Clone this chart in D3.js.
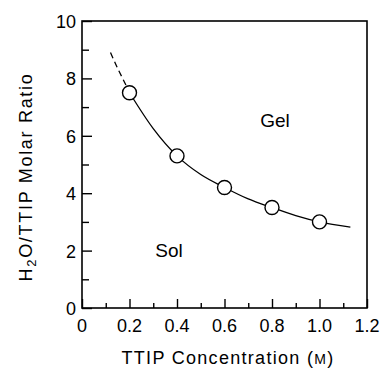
<!DOCTYPE html>
<html>
<head>
<meta charset="utf-8">
<script src="https://cdn.jsdelivr.net/npm/d3@7"></script>
<style>
body { margin: 0; background: #fff; }
text { font-family: "Liberation Sans", Arial, sans-serif; fill: #000; }
</style>
</head>
<body>
<div id="chart"></div>
<script>
// measured points
var conc = [0.2, 0.4, 0.6, 0.8, 1.0];
var ratio = [7.5, 5.3, 4.2, 3.5, 3.0];

// fitted boundary
var dashX = [0.12, 0.15, 0.18, 0.2];
var dashY = [8.9, 8.35, 7.85, 7.5];
var fitX = [0.2, 0.3, 0.4, 0.5, 0.6, 0.7, 0.8, 0.9, 1.0, 1.13];
var fitY = [7.5, 6.25, 5.3, 4.65, 4.2, 3.8, 3.5, 3.22, 3.0, 2.82];

var xTicks = [0, 0.2, 0.4, 0.6, 0.8, 1.0, 1.2];
var yTicks = [0, 2, 4, 6, 8, 10];

var width = 380,
	height = 373;
var padding = {left: 82, right: 13, top: 21, bottom: 65};

var svg = d3.select('#chart')
		.append('svg')
		.attr('width', width)
		.attr('height', height)

var x = d3.scaleLinear().domain([0, 1.2]).range([padding.left, width - padding.right]);
var y = d3.scaleLinear().domain([0, 10]).range([height - padding.bottom, padding.top]);

// frame
svg.append('rect')
	.attr('x', x(0))
	.attr('y', y(10))
	.attr('width', x(1.2) - x(0))
	.attr('height', y(0) - y(10))
	.attr('fill', 'none')
	.attr('stroke', '#000')
	.attr('stroke-width', 1.6)

// x ticks (inward)
var xAxis = svg.append('g')
	.attr('transform', `translate(0, ${y(0)})`)
	.call(d3.axisTop(x).tickValues(d3.range(0, 13).map(i => i / 10)).tickSize(0).tickFormat(''))
xAxis.select('.domain').remove();
xAxis.selectAll('.tick line')
	.attr('y2', (d, i) => i % 2 == 0 ? -9 : -5)
	.attr('stroke-width', 1.4)

svg.append('g').selectAll('text')
	.data(xTicks)
	.enter()
	.append('text')
	.attr('x', d => x(d))
	.attr('y', y(0) + 24)
	.attr('text-anchor', 'middle')
	.attr('font-size', 18)
	.text(d => d == 0 ? '0' : d.toFixed(1))

// y ticks (inward)
var yAxis = svg.append('g')
	.attr('transform', `translate(${x(0)}, 0)`)
	.call(d3.axisRight(y).tickValues(d3.range(0, 11)).tickSize(0).tickFormat(''))
yAxis.select('.domain').remove();
yAxis.selectAll('.tick line')
	.attr('x2', (d, i) => i % 2 == 0 ? 10 : 7)
	.attr('stroke-width', 1.4)

svg.append('g').selectAll('text')
	.data(yTicks)
	.enter()
	.append('text')
	.attr('x', x(0) - 6)
	.attr('y', d => y(d) + 7)
	.attr('text-anchor', 'end')
	.attr('font-size', 18)
	.text(d => d)

// curve
var line = d3.line()
	.x(d => x(d[0]))
	.y(d => y(d[1]))
	.curve(d3.curveMonotoneX)

svg.append('path')
	.attr('d', line(dashX.map((v, i) => [v, dashY[i]])))
	.attr('fill', 'none')
	.attr('stroke', '#000')
	.attr('stroke-width', 1.3)
	.attr('stroke-dasharray', '6,4')

svg.append('path')
	.attr('d', line(fitX.map((v, i) => [v, fitY[i]])))
	.attr('fill', 'none')
	.attr('stroke', '#000')
	.attr('stroke-width', 1.3)

svg.append('g').selectAll('circle')
	.data(conc)
	.enter()
	.append('circle')
	.attr('cx', d => x(d))
	.attr('cy', (d, i) => y(ratio[i]))
	.attr('r', 7)
	.attr('fill', '#fff')
	.attr('stroke', '#000')
	.attr('stroke-width', 1.4)

// region labels
svg.append('text').attr('x', 275).attr('y', 127).attr('text-anchor', 'middle').attr('font-size', 19).text('Gel');
svg.append('text').attr('x', 169).attr('y', 257).attr('text-anchor', 'middle').attr('font-size', 19).text('Sol');

// axis titles
var xt = svg.append('text')
	.attr('x', 228)
	.attr('y', 364)
	.attr('text-anchor', 'middle')
	.attr('font-size', 18)
	.attr('letter-spacing', 1.3)
xt.append('tspan').text('TTIP Concentration (');
xt.append('tspan').attr('font-size', 14).text('M');
xt.append('tspan').text(')');

var yt = svg.append('text')
	.attr('transform', `translate(32, 177) rotate(-90)`)
	.attr('text-anchor', 'middle')
	.attr('font-size', 18)
	.attr('letter-spacing', 1.7)
yt.append('tspan').text('H');
yt.append('tspan').attr('font-size', 13).attr('dy', 4).text('2');
yt.append('tspan').attr('dy', -4).text('O/TTIP Molar Ratio');
</script>
</body>
</html>
